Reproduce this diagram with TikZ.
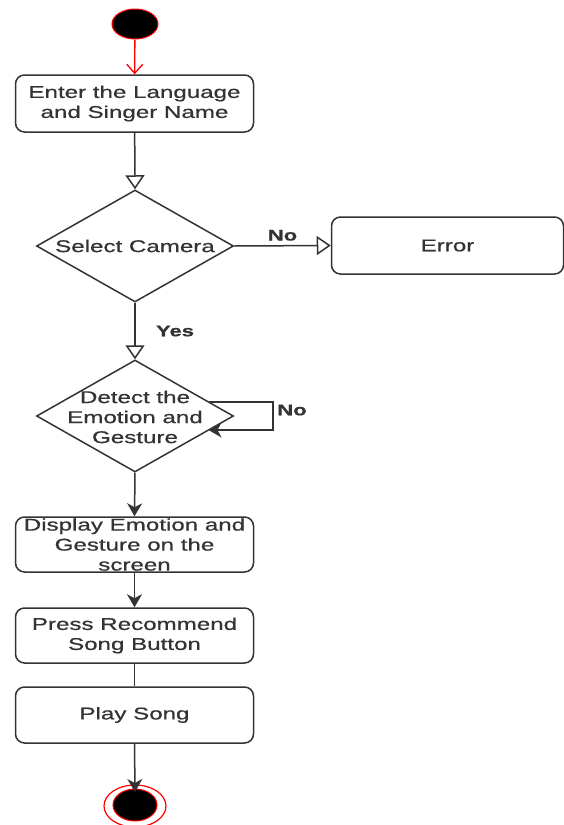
\documentclass[tikz,border=0pt]{standalone}
\usepackage{fontspec}
\setmainfont{Liberation Sans}[FakeStretch=1.42, FakeBold=0.7]
\usetikzlibrary{arrows.meta,shapes.geometric}
\begin{document}
\begin{tikzpicture}[x=1pt,y=-1pt,
  every node/.style={font=\fontsize{17}{20}\selectfont, text=black!80},
  ln/.style={draw=black!80, line width=1.5pt},
  actbox/.style={draw=black!80, line width=1.5pt, rounded corners=9pt, minimum width=238pt, minimum height=56pt, align=center, inner sep=0pt},
  decis/.style={draw=black!80, line width=1.5pt, diamond, minimum width=197pt, minimum height=112pt, aspect=1.76, inner sep=0pt},
  openarr/.style={-{Triangle[open,length=14pt,width=19pt,line width=1.5pt]}},
  fillarr/.style={-{Stealth[length=13pt,width=15pt,inset=4pt]}},
  lbl/.style={font=\fontsize{15.5}{18}\selectfont\bfseries}
]
\useasboundingbox (0,0) rectangle (564,825);
% start
\node[ellipse, draw=red, fill=black, line width=1pt, minimum width=46pt, minimum height=30pt, inner sep=0pt] (start) at (135,24) {};
% boxes
\node[actbox, minimum height=57pt] (b1) at (134.5,103.5) {Enter the Language\\and Singer Name};
\node[decis] (d1) at (135,246) {};
\node at (d1) {Select Camera};
\node[actbox, minimum width=232pt, minimum height=57pt] (err) at (447.5,245.5) {Error};
\node[decis] (d2) at (135,416) {};
\node[align=center] at (135,417) {Detect the\\Emotion and\\Gesture};
\node[actbox, minimum height=55pt] (b2) at (134.5,544.5) {Display Emotion and\\Gesture on the\\screen};
\node[actbox, minimum height=55pt] (b3) at (134.5,635.5) {Press Recommend\\Song Button};
\node[actbox, minimum height=56pt] (b4) at (134.5,715) {Play Song};
% end
\node[ellipse, draw=red, line width=1.2pt, minimum width=62pt, minimum height=42pt, inner sep=0pt] (endo) at (135,806) {};
\node[ellipse, draw=red, fill=black, line width=1pt, minimum width=44pt, minimum height=32pt, inner sep=0pt] (endi) at (135,805) {};
% connectors
\draw[draw=red, line width=1.3pt, -{Straight Barb[length=9pt,width=16pt,line width=1.3pt]}] (start) -- (b1);
\draw[ln, openarr] (b1) -- (d1.north);
\draw[ln, openarr] (d1.east) -- (err.west) node[midway, above=1pt, lbl] {No};
\draw[ln, openarr] (d1.south) -- (d2.north);
\node[lbl] at (175,331) {Yes};
\coordinate (lp1) at (208.5,402);
\coordinate (lp2) at (273,402);
\coordinate (lp3) at (273,430);
\coordinate (lp4) at (208.5,430);
\draw[ln, fillarr] (lp1) -- (lp2) -- (lp3) -- (lp4);
\node[lbl] at (292,410) {No};
\draw[ln, fillarr] (d2.south) -- (b2.north);
\draw[ln, fillarr] (b2) -- (b3);
\draw[ln] (b3) -- (b4);
\draw[ln, fillarr] (b4.south) -- (135,792);
\end{tikzpicture}
\end{document}
